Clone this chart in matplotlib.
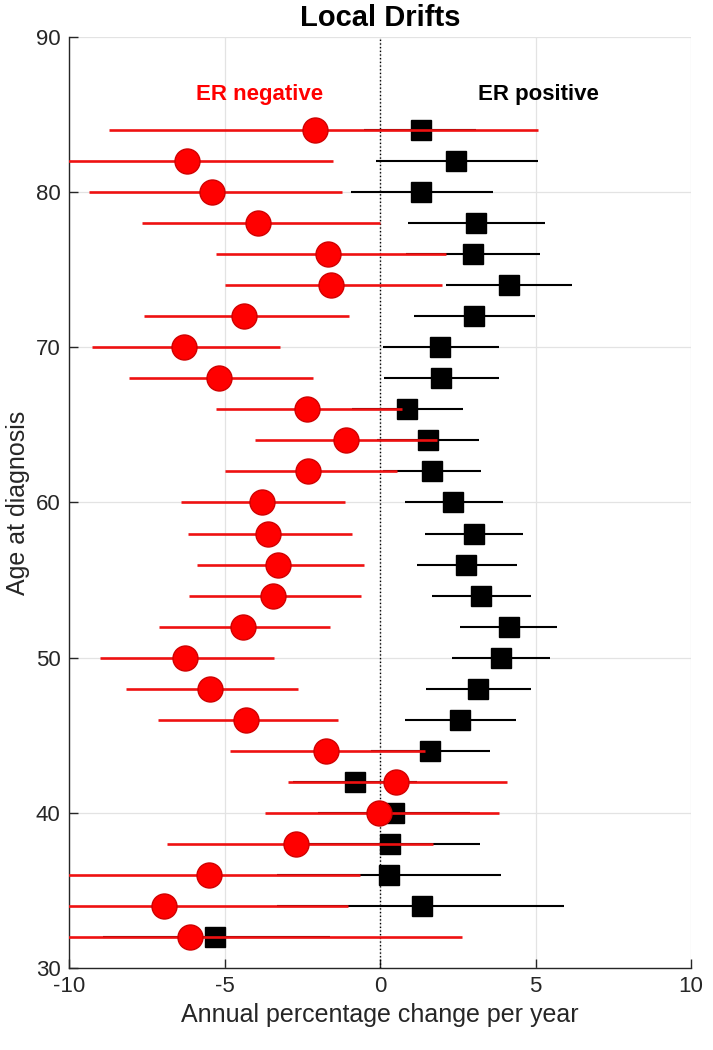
import matplotlib
matplotlib.use('Agg')
import matplotlib.pyplot as plt
import numpy as np

plt.rcParams['font.family'] = ['Liberation Sans', 'DejaVu Sans']
plt.rcParams['axes.unicode_minus'] = False

# age groups (bottom to top)
ages = [32, 34, 36, 38, 40, 42, 44, 46, 48, 50, 52, 54, 56, 58,
        60, 62, 64, 66, 68, 70, 72, 74, 76, 78, 80, 82, 84]

# ER negative: estimate and 95% CI
neg_est = [-6.12, -6.93, -5.49, -2.71, -0.03, 0.51, -1.75, -4.30, -5.47, -6.28,
           -4.41, -3.43, -3.27, -3.60, -3.81, -2.30, -1.11, -2.34, -5.18, -6.30,
           -4.37, -1.58, -1.67, -3.93, -5.39, -6.22, -2.08]
neg_lo = [-14.6, -12.8, -10.3, -6.86, -3.70, -2.96, -4.83, -7.13, -8.17, -9.00,
          -7.10, -6.14, -5.90, -6.19, -6.40, -4.99, -4.02, -5.29, -8.08, -9.27,
          -7.58, -4.99, -5.29, -7.66, -9.37, -10.9, -8.73]
neg_hi = [2.64, -1.02, -0.66, 1.71, 3.81, 4.09, 1.44, -1.36, -2.63, -3.40,
          -1.60, -0.61, -0.52, -0.89, -1.12, 0.53, 1.82, 0.71, -2.15, -3.23,
          -1.01, 1.98, 2.11, 0.0, -1.23, -1.50, 5.09]

# ER positive: estimate and 95% CI
pos_est = [-5.30, 1.36, 0.29, 0.32, 0.44, -0.80, 1.62, 2.58, 3.14, 3.89,
           4.14, 3.24, 2.78, 3.02, 2.34, 1.66, 1.54, 0.88, 1.95, 1.92,
           3.02, 4.14, 2.98, 3.07, 1.31, 2.44, 1.31]
pos_lo = [-8.9, -3.3, -3.3, -2.5, -2.0, -2.8, -0.3, 0.81, 1.47, 2.31,
          2.58, 1.67, 1.20, 1.43, 0.81, 0.1, -0.1, -0.9, 0.13, 0.08,
          1.08, 2.11, 0.82, 0.91, -0.92, -0.13, -0.5]
pos_hi = [-1.6, 5.93, 3.88, 3.20, 2.9, 1.2, 3.54, 4.38, 4.85, 5.47,
          5.70, 4.87, 4.41, 4.61, 3.94, 3.24, 3.19, 2.67, 3.82, 3.82,
          4.98, 6.18, 5.14, 5.29, 3.62, 5.09, 3.1]

ages = np.array(ages)
neg_est, neg_lo, neg_hi = map(np.array, (neg_est, neg_lo, neg_hi))
pos_est, pos_lo, pos_hi = map(np.array, (pos_est, pos_lo, pos_hi))

fig = plt.figure(figsize=(7.13, 10.5), dpi=100)
ax = fig.add_axes([0.0968, 0.0781, 0.8724, 0.8867])

ax.grid(True, color='#e3e3e3', linewidth=0.9)
ax.set_axisbelow(True)
ax.axvline(0, color='black', linestyle=':', linewidth=1.0, zorder=1)

ax.errorbar(pos_est, ages, xerr=[pos_est - pos_lo, pos_hi - pos_est],
            fmt='s', color='black', ecolor='black', elinewidth=1.5,
            markersize=14, capsize=0, zorder=2)
ax.errorbar(neg_est, ages, xerr=[neg_est - neg_lo, neg_hi - neg_est],
            fmt='o', color='#ff0000', ecolor='#ee1111', elinewidth=1.9,
            markersize=18, markeredgecolor='#d00000', capsize=0, zorder=3)

ax.set_xlim(-10, 10)
ax.set_ylim(30, 90)
ax.set_xticks([-10, -5, 0, 5, 10])
ax.set_yticks([30, 40, 50, 60, 70, 80, 90])

for side in ['top', 'right']:
    ax.spines[side].set_visible(False)
for side in ['left', 'bottom']:
    ax.spines[side].set_color('#262626')
    ax.spines[side].set_linewidth(1.0)

ax.tick_params('both', which='major', direction='in', length=6.5, width=1,
               colors='#262626', labelsize=16, pad=6)

ax.set_xlabel('Annual percentage change per year', fontsize=18, color='#262626')
ax.set_ylabel('Age at diagnosis', fontsize=18, color='#262626')
ax.set_title('Local Drifts', fontsize=21, fontweight='bold', pad=8)

ax.text(-3.86, 86.3, 'ER negative', color='#ff0000', fontsize=16,
        fontweight='bold', ha='center', va='center')
ax.text(5.08, 86.3, 'ER positive', color='black', fontsize=16,
        fontweight='bold', ha='center', va='center')

plt.savefig('out.png', dpi=100)
plt.close()
